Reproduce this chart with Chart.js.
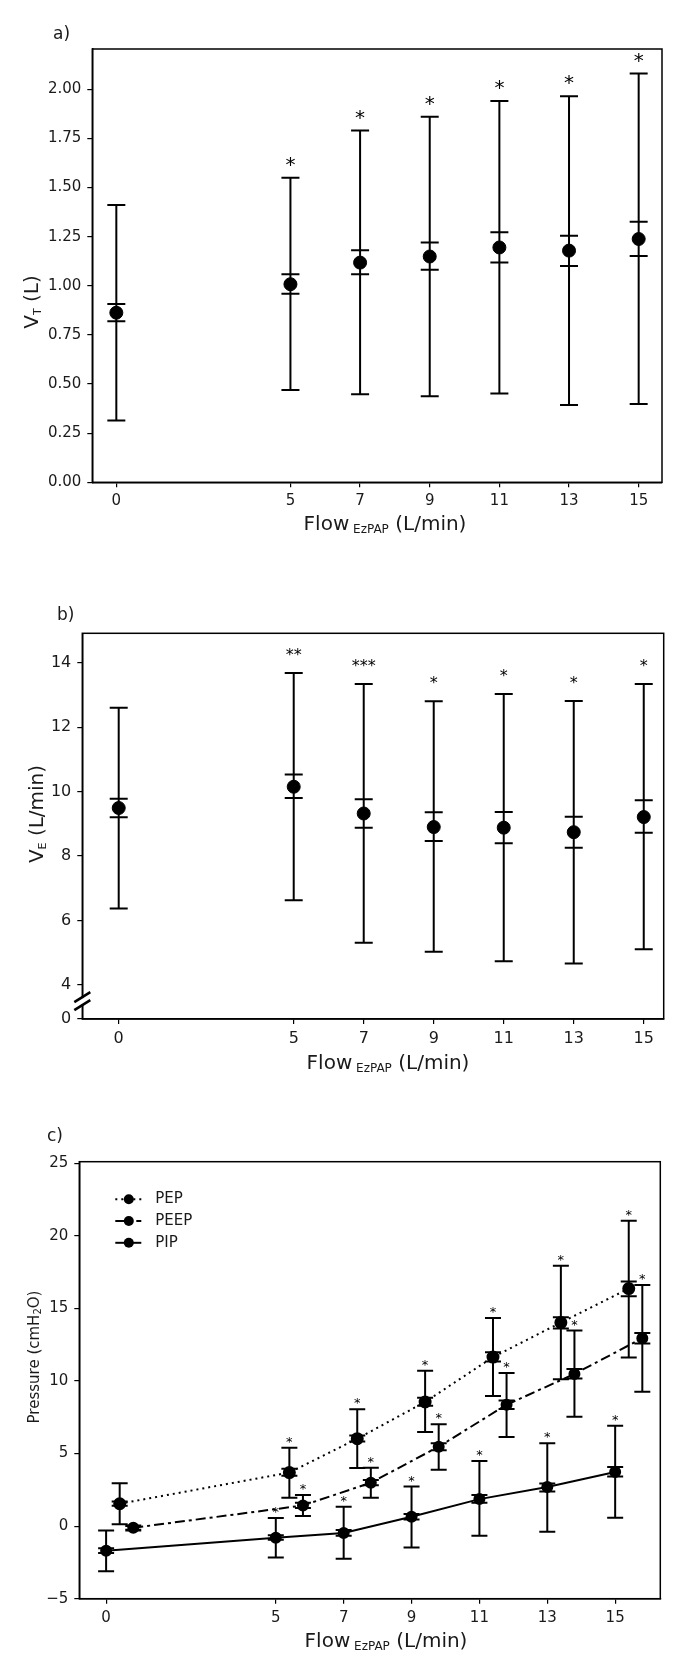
<!DOCTYPE html>
<html>
<head>
<meta charset="utf-8">
<script src="https://cdn.jsdelivr.net/npm/chart.js@4.4.1/dist/chart.umd.min.js"></script>
<style>
  body { margin: 0; background: #fff; width: 692px; height: 1667px; position: relative; overflow: hidden; }
  canvas { position: absolute; left: 0; }
</style>
</head>
<body>
<canvas id="chartA" width="692" height="550" style="top:0px"></canvas>
<canvas id="chartB" width="692" height="540" style="top:560px"></canvas>
<canvas id="chartC" width="692" height="557" style="top:1110px"></canvas>
<script>
// Flow EzPAP (L/min)
const flowTicks = [0, 5, 7, 9, 11, 13, 15];

// a) tidal volume VT (L)
const vtMean   = [0.863, 1.008, 1.118, 1.149, 1.195, 1.179, 1.238];
const vtLow    = [0.315, 0.470, 0.448, 0.438, 0.452, 0.393, 0.398];
const vtHigh   = [1.411, 1.550, 1.790, 1.860, 1.940, 1.964, 2.080];
const vtSeLow  = [0.819, 0.960, 1.059, 1.081, 1.118, 1.101, 1.152];
const vtSeHigh = [0.907, 1.059, 1.181, 1.220, 1.272, 1.255, 1.326];
const vtStars  = ['', '*', '*', '*', '*', '*', '*'];
const vtTicks  = [0, 0.25, 0.5, 0.75, 1, 1.25, 1.5, 1.75, 2];

// b) minute ventilation VE (L/min)
const veMean   = [9.49, 10.15, 9.32, 8.90, 8.88, 8.74, 9.21];
const veLow    = [6.37, 6.63, 5.31, 5.03, 4.74, 4.67, 5.11];
const veHigh   = [12.60, 13.68, 13.34, 12.80, 13.03, 12.81, 13.34];
const veSeLow  = [9.20, 9.80, 8.88, 8.47, 8.40, 8.26, 8.72];
const veSeHigh = [9.78, 10.53, 9.76, 9.36, 9.37, 9.22, 9.73];
const veStars  = ['', '**', '***', '*', '*', '*', '*'];
const veTicks  = [4, 6, 8, 10, 12, 14];

// c) pressures (cmH2O), series shifted right of each flow
const pepShift = 0.4;
const peepShift = 0.8;
const pepMean    = [1.54, 3.69, 6.02, 8.55, 11.64, 14.02, 16.36];
const pepLow     = [0.12, 1.95, 4.00, 6.48, 8.96, 10.12, 11.61];
const pepHigh    = [2.96, 5.40, 8.05, 10.70, 14.34, 17.93, 21.04];
const pepSeLow   = [1.40, 3.47, 5.83, 8.29, 11.33, 13.61, 15.83];
const pepSeHigh  = [1.69, 3.95, 6.24, 8.84, 11.98, 14.39, 16.84];
const peepMean   = [-0.12, 1.42, 2.99, 5.47, 8.36, 10.48, 12.94];
const peepLow    = [-0.30, 0.70, 1.95, 3.88, 6.14, 7.54, 9.25];
const peepHigh   = [0.05, 2.14, 4.02, 7.01, 10.55, 13.47, 16.60];
const peepSeLow  = [-0.25, 1.25, 2.82, 5.23, 8.07, 10.17, 12.58];
const peepSeHigh = [0.00, 1.61, 3.18, 5.71, 8.65, 10.82, 13.30];
const pipMean    = [-1.69, -0.80, -0.48, 0.65, 1.86, 2.70, 3.73];
const pipLow     = [-3.11, -2.17, -2.24, -1.47, -0.67, -0.39, 0.58];
const pipHigh    = [-0.31, 0.55, 1.33, 2.72, 4.48, 5.71, 6.92];
const pipSeLow   = [-1.86, -0.94, -0.67, 0.46, 1.61, 2.39, 3.42];
const pipSeHigh  = [-1.52, -0.63, -0.27, 0.84, 2.14, 2.94, 4.07];
const pStars     = ['', '*', '*', '*', '*', '*', '*'];
const pTicks     = [-5, 0, 5, 10, 15, 20, 25];

const FONT = 'DejaVu Sans';
const INK = '#1a1a1a';

function pts(xs, ys, shift) {
    return xs.map((x, i) => ({ x: x + (shift || 0), y: ys[i] }));
}

// draw text made of runs (normal + subscript), centred on cx,cy
function richText(ctx, runs, cx, cy, rotate) {
    ctx.save();
    ctx.translate(cx, cy);
    if (rotate) ctx.rotate(-Math.PI / 2);
    ctx.fillStyle = INK;
    ctx.textBaseline = 'alphabetic';
    ctx.textAlign = 'left';
    let total = 0;
    runs.forEach(r => { ctx.font = r.size + 'px "' + FONT + '"'; total += ctx.measureText(r.t).width; });
    let x = -total / 2;
    const base = runs[0].size * 0.36;
    runs.forEach(r => {
        ctx.font = r.size + 'px "' + FONT + '"';
        ctx.fillText(r.t, x, base + (r.dy || 0));
        x += ctx.measureText(r.t).width;
    });
    ctx.restore();
}

const errorBars = {
    id: 'errorBars',
    beforeDatasetsDraw(chart) {
        const ctx = chart.ctx, xs = chart.scales.x, ys = chart.scales.y;
        ctx.save();
        ctx.strokeStyle = '#000';
        ctx.lineWidth = 2;
        chart.data.datasets.forEach(ds => {
            const hw = ds.capHalf || 8;
            ds.data.forEach((p, i) => {
                const x = xs.getPixelForValue(p.x);
                const lo = ys.getPixelForValue(ds.errLow[i]);
                const hi = ys.getPixelForValue(ds.errHigh[i]);
                const sl = ys.getPixelForValue(ds.seLow[i]);
                const sh = ys.getPixelForValue(ds.seHigh[i]);
                ctx.beginPath();
                ctx.moveTo(x, lo); ctx.lineTo(x, hi);
                [lo, hi, sl, sh].forEach(y => { ctx.moveTo(x - hw, y); ctx.lineTo(x + hw, y); });
                ctx.stroke();
            });
        });
        ctx.restore();
    },
    afterDatasetsDraw(chart) {
        const ctx = chart.ctx, xs = chart.scales.x, ys = chart.scales.y;
        ctx.save();
        ctx.fillStyle = '#000';
        ctx.textAlign = 'center';
        ctx.textBaseline = 'alphabetic';
        chart.data.datasets.forEach(ds => {
            if (!ds.stars) return;
            ctx.font = ds.starSize + 'px "' + FONT + '"';
            ds.data.forEach((p, i) => {
                if (!ds.stars[i]) return;
                const x = xs.getPixelForValue(p.x);
                const top = ys.getPixelForValue(ds.errHigh[i]);
                ctx.fillText(ds.stars[i], x, top - ds.starGap + ds.starSize * 0.55);
            });
        });
        ctx.restore();
    }
};

// frame, panel letter, axis titles (kept in a closure, not in chart options)
function makeFrame(o) {
    return {
        id: 'frame',
        afterDraw(chart) {
            const ctx = chart.ctx, a = chart.chartArea;
            ctx.save();
            ctx.strokeStyle = '#000';
            ctx.lineWidth = 1.5;
            ctx.strokeRect(a.left, a.top, a.right - a.left, a.bottom - a.top);
            ctx.fillStyle = INK;
            ctx.font = '17px "' + FONT + '"';
            ctx.textBaseline = 'middle';
            ctx.textAlign = 'left';
            ctx.fillText(o.panel, o.panelX, o.panelY);
            ctx.restore();
            richText(ctx, o.xTitle, o.xTitleX, o.xTitleY, false);
            richText(ctx, o.yTitle, o.yTitleX, o.yTitleY, true);
            if (o.extra) o.extra(chart);
        }
    };
}

function makeChart(id, cfg) {
    return new Chart(document.getElementById(id), {
        type: 'scatter',
        data: { datasets: cfg.datasets },
        options: {
            responsive: false,
            animation: false,
            devicePixelRatio: 1,
            layout: { padding: { top: cfg.padTop, right: cfg.padRight, left: 0, bottom: 0 } },
            plugins: {
                legend: { display: false },
                tooltip: { enabled: false }
            },
            scales: {
                x: {
                    type: 'linear',
                    min: cfg.xMin, max: cfg.xMax,
                    afterBuildTicks: s => { s.ticks = flowTicks.map(v => ({ value: v })); },
                    afterFit: s => { s.height = cfg.xHeight; },
                    ticks: { autoSkip: false, maxRotation: 0, padding: 5, color: INK,
                             font: { family: FONT, size: cfg.tickSize }, callback: v => String(v) },
                    grid: { drawOnChartArea: false, tickLength: 5, color: '#000', lineWidth: 1.2 },
                    border: { color: '#000', width: 1.5 }
                },
                y: {
                    type: 'linear',
                    min: cfg.yMin, max: cfg.yMax,
                    afterBuildTicks: s => { s.ticks = cfg.yTicks.map(v => ({ value: v })); },
                    afterFit: s => { s.width = cfg.yWidth; },
                    ticks: { autoSkip: false, padding: 6, color: INK,
                             font: { family: FONT, size: cfg.tickSize }, callback: cfg.yLabel },
                    grid: { drawOnChartArea: false, tickLength: 5, color: '#000', lineWidth: 1.2 },
                    border: { color: '#000', width: 1.5 }
                }
            }
        },
        plugins: [errorBars, makeFrame(cfg.frame)]
    });
}

const flowTitle = [{ t: 'Flow', size: 20 }, { t: ' EzPAP', size: 12, dy: 3 }, { t: ' (L/min)', size: 20 }];

function meanSet(data, low, high, seLow, seHigh, stars, starSize, starGap, extra) {
    return Object.assign({
        data: data, errLow: low, errHigh: high, seLow: seLow, seHigh: seHigh,
        stars: stars, starSize: starSize, starGap: starGap, capHalf: 9,
        showLine: false, pointRadius: 6.5, pointHoverRadius: 6.5,
        pointBackgroundColor: '#000', pointBorderColor: '#000', borderColor: '#000'
    }, extra || {});
}

// a) VT
makeChart('chartA', {
    padTop: 49, padRight: 30, xHeight: 67.7, yWidth: 92.3,
    xMin: -0.69, xMax: 15.67, yMin: 0, yMax: 2.205, yTicks: vtTicks, tickSize: 15,
    yLabel: v => Number(v).toFixed(2),
    datasets: [meanSet(pts(flowTicks, vtMean), vtLow, vtHigh, vtSeLow, vtSeHigh, vtStars, 20, 18)],
    frame: {
        panel: 'a)', panelX: 53, panelY: 35,
        xTitle: flowTitle, xTitleX: 385, xTitleY: 523,
        yTitle: [{ t: 'V', size: 20 }, { t: 'T', size: 11, dy: 3 }, { t: ' (L)', size: 20 }],
        yTitleX: 31, yTitleY: 302
    }
});

// b) VE with broken axis (bottom labelled 0)
makeChart('chartB', {
    padTop: 73.3, padRight: 28.3, xHeight: 81, yWidth: 82.3,
    xMin: -1.04, xMax: 15.57, yMin: 2.945, yMax: 14.91, yTicks: [2.945].concat(veTicks), tickSize: 16,
    yLabel: v => (v < 3.5 ? '0' : String(v)),
    datasets: [meanSet(pts(flowTicks, veMean), veLow, veHigh, veSeLow, veSeHigh, veStars, 16, 22)],
    frame: {
        panel: 'b)', panelX: 57, panelY: 56,
        xTitle: flowTitle, xTitleX: 388, xTitleY: 502,
        yTitle: [{ t: 'V', size: 20 }, { t: 'E', size: 11, dy: 3 }, { t: ' (L/min)', size: 20 }],
        yTitleX: 36, yTitleY: 254,
        extra: chart => {
            const ctx = chart.ctx, ys = chart.scales.y, x = chart.chartArea.left;
            const yc = ys.getPixelForValue(3.5);
            ctx.save();
            ctx.fillStyle = '#fff';
            ctx.fillRect(x - 2, yc - 3, 4, 6);
            ctx.strokeStyle = '#000';
            ctx.lineWidth = 2.6;
            ctx.beginPath();
            ctx.moveTo(x - 8, yc + 1); ctx.lineTo(x + 8, yc - 9);
            ctx.moveTo(x - 8, yc + 9); ctx.lineTo(x + 8, yc - 1);
            ctx.stroke();
            ctx.restore();
        }
    }
});

// c) pressures
const legendItems = [
    { label: 'PEP', dash: [2, 4] },
    { label: 'PEEP', dash: [10, 4, 3, 4] },
    { label: 'PIP', dash: [] }
];

function lineSet(dash, radius) {
    return { type: 'line', showLine: true, tension: 0, fill: false, borderDash: dash, borderWidth: 2,
             pointRadius: radius, pointHoverRadius: radius, capHalf: 8 };
}

makeChart('chartC', {
    padTop: 51.7, padRight: 31.7, xHeight: 68.3, yWidth: 79.3,
    xMin: -0.79, xMax: 16.33, yMin: -5, yMax: 25.1, yTicks: pTicks, tickSize: 15,
    yLabel: v => (v < 0 ? '\u2212' + Math.abs(v) : String(v)),
    datasets: [
        meanSet(pts(flowTicks, pepMean, pepShift), pepLow, pepHigh, pepSeLow, pepSeHigh, pStars, 13, 9,
            lineSet(legendItems[0].dash, 5.5)),
        meanSet(pts(flowTicks, peepMean, peepShift), peepLow, peepHigh, peepSeLow, peepSeHigh, pStars, 13, 9,
            lineSet(legendItems[1].dash, 5)),
        meanSet(pts(flowTicks, pipMean), pipLow, pipHigh, pipSeLow, pipSeHigh, pStars, 13, 9,
            lineSet(legendItems[2].dash, 5))
    ],
    frame: {
        panel: 'c)', panelX: 47, panelY: 27,
        xTitle: flowTitle, xTitleX: 386, xTitleY: 530,
        yTitle: [{ t: 'Pressure (cmH', size: 15 }, { t: '2', size: 10, dy: 2 }, { t: 'O)', size: 15 }],
        yTitleX: 33.6, yTitleY: 247,
        extra: chart => {
            const ctx = chart.ctx, a = chart.chartArea;
            ctx.save();
            legendItems.forEach((it, i) => {
                const y = a.top + 37.5 + i * 21.8;
                const x0 = a.left + 36;
                ctx.strokeStyle = '#000';
                ctx.lineWidth = 2;
                ctx.setLineDash(it.dash);
                ctx.beginPath();
                ctx.moveTo(x0, y); ctx.lineTo(x0 + 26, y);
                ctx.stroke();
                ctx.setLineDash([]);
                ctx.fillStyle = '#000';
                ctx.beginPath();
                ctx.arc(x0 + 13.5, y, 5, 0, Math.PI * 2);
                ctx.fill();
                ctx.fillStyle = INK;
                ctx.font = '15px "' + FONT + '"';
                ctx.textAlign = 'left';
                ctx.textBaseline = 'middle';
                ctx.fillText(it.label, x0 + 40, y);
            });
            ctx.restore();
        }
    }
});
</script>
</body>
</html>
